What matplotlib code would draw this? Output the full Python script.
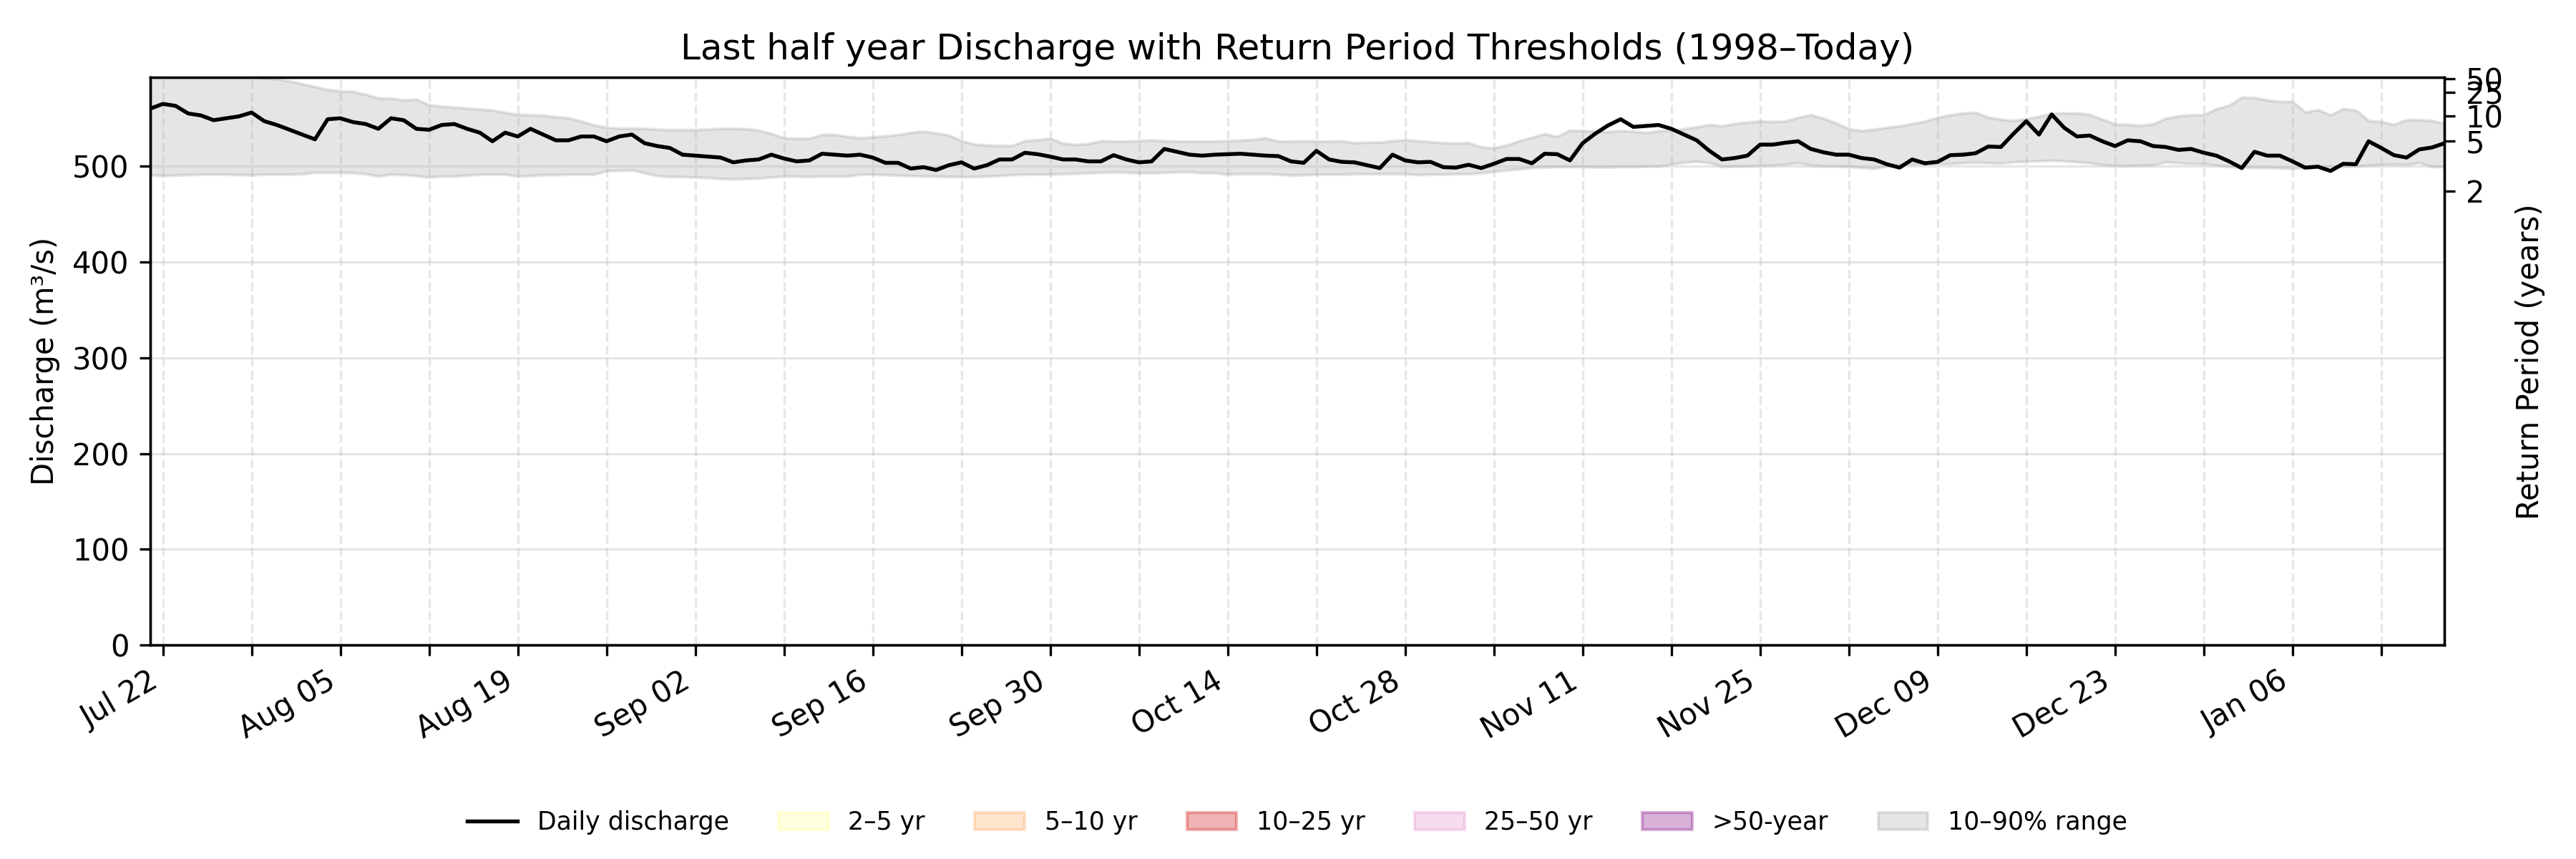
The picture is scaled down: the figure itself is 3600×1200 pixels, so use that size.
import pandas as pd
import matplotlib
matplotlib.use('Agg')
import matplotlib.pyplot as plt
import matplotlib.dates as mdates
import matplotlib.patches as mpatches


# 1) Dados: 182 dias (2024-07-21 .. 2025-01-18)
datas = pd.date_range('2024-07-21', periods=182, freq='D')

vazao = [
    560, 565, 563, 555, 553, 548, 550, 552, 556, 547,
    543, 538, 533, 528, 549, 550, 546, 544, 539, 550,
    548, 539, 538, 543, 544, 539, 535, 526, 535, 531,
    539, 533, 527, 527, 531, 531, 526, 531, 533, 524,
    521, 519, 512, 511, 510, 509, 504, 506, 507, 512,
    508, 505, 506, 513, 512, 511,
    512,
    509, 503.5, 503.5, 497.5, 499, 496, 501, 504, 497.5, 501,
    507, 507, 514, 512.5, 510, 507, 507, 505, 505, 511.5,
    507, 504, 505, 518, 515, 512, 511, 512, 512.5, 513,
    512, 511, 510.5, 505, 503.5, 516, 507, 504.5, 504, 501,
    498, 512, 506, 504, 504.5, 499, 498.5, 501.5, 498, 502.5,
    507.5, 507.5, 503, 513, 512.5, 506, 524, 534, 542.5, 549,
    541, 542, 543, 539, 533, 527, 516,
    507, 508.5, 511, 522.5, 522.5, 524.5, 526, 518, 514.5, 512,
    512, 508.5, 507, 502, 498.5, 507, 503, 504.5, 511.5, 512,
    513.5, 520.5, 520, 534, 547, 533, 554, 540, 531, 532,
    526, 521, 527, 526, 521, 520, 517, 518, 514, 511,
    505, 498, 515, 511, 511, 505, 498.5, 499.5, 495, 502.5,
    502, 526, 519, 511.5, 509, 517.5, 519.5, 524,
]

q90 = [
    598, 600, 601, 600, 599, 598, 597, 596, 594, 592,
    591, 589, 586, 583, 580, 578.5, 578, 575, 571, 571,
    569, 570, 564, 562.5, 561.5, 560.5, 559.5, 558.5, 556, 554,
    553.5, 553, 551.5, 550.5, 547, 543, 540.5, 539.5, 539.5, 539.5,
    538.5, 538, 538, 538, 538.5, 539.5, 539.5, 539, 537.5, 534,
    529.5, 529, 529, 533, 533, 531,
    529.5, 530.5, 531.5, 533, 535, 536.5, 534.5, 532.5, 526.5, 523,
    522, 521.5, 521.5, 526.5, 527.5, 529, 524, 522.5, 523.5, 526.5,
    526, 526, 526.5, 527.5, 526.5, 526, 526, 526, 526, 526.5,
    527, 528, 529.5, 526, 526, 526.5, 526, 526, 526.5, 524.5,
    525, 525, 526.5, 527.5, 526.5, 525.5, 524.5, 524, 524.5, 520,
    519, 522, 526.5, 530, 534, 531, 537.5, 537, 536.5, 536,
    537, 536.5, 535, 537, 537.5, 539, 541, 543.5,
    542, 544.5, 546, 547, 546.5, 547, 551, 553.5, 550, 545,
    539, 537, 538.5, 540.5, 542, 544.5, 547, 551, 553.5, 555.5,
    556, 551, 549, 547.5, 549.5, 552, 555, 555.5, 555.5, 554,
    549, 544, 543.5, 542.5, 544, 550, 552.5, 553.5, 553.5, 560,
    563.5, 572, 571.5, 569, 567.5, 567.5, 556.5, 559, 553.5, 560,
    558.5, 547.5, 546.5, 543.5, 548.5, 548.5, 547.5, 544.5,
]

q10 = [
    491, 490, 490.5, 491, 491.5, 491.5, 491.5, 491, 491, 491.5,
    491.5, 491.5, 492, 493.5, 493.5, 493.5, 493, 492, 489.5, 491.5,
    491, 490, 488.5, 489.5, 489.5, 490.5, 491.5, 491.5, 491.5, 489.5,
    490, 491, 491, 491.5, 491.5, 491.5, 495, 495.5, 496, 493,
    490, 489, 489, 488.5, 488, 487, 486.5, 487, 487.5, 488.5,
    489.5, 489.5, 489, 489.5, 489.5, 489.5,
    491.5, 491.5, 491, 490.5, 490, 489.5, 489.5, 489, 489, 489,
    489.5, 490, 491, 491.5, 491.5, 491.5, 492, 492.5, 493, 493.5,
    494, 493.5, 493, 493, 493.5, 494, 494, 493, 493, 491.5,
    492, 492, 492, 491.5, 490.5, 491, 491.5, 491.5, 491.5, 492,
    492, 492, 492, 492, 491, 491.5, 491.5, 492, 492, 493,
    494.5, 496, 497, 498.5, 499, 499.5, 499.5, 499.5, 499, 499,
    499.5, 499.5, 500, 500, 502, 504, 505, 503.5,
    499.5, 500, 500, 500.5, 501, 502, 503.5, 501, 500, 500,
    499.5, 498.5, 497.5, 500, 501.5, 502, 502, 502.5, 502.5, 503.5,
    504, 503.5, 503, 504.5, 505, 505.5, 506, 505.5, 504.5, 503.5,
    501.5, 500.5, 500.5, 501, 501, 504.5, 503.5, 502.5, 502.5, 501,
    499.5, 499, 498.5, 498.5, 498, 497.5, 498.5, 499, 499.5, 500,
    500, 501, 501.5, 502, 501.5, 503.5, 499.5, 499.5,
]

# limiares de periodo de retorno (m3/s)
periodos = ['2', '5', '10', '25', '50']
limiares = [474, 526, 552.5, 577, 591]

faixas_rp = ['2–5 yr', '5–10 yr', '10–25 yr', '25–50 yr', '>50-year']
cores_rp = ['yellow', 'tab:orange', 'tab:red', 'tab:pink', 'purple']
alphas_rp = [0.12, 0.2, 0.35, 0.25, 0.3]


# 2) Grafico
fig, ax = plt.subplots(figsize=(12, 4))
fig.subplots_adjust(left=0.0583, right=0.949, bottom=0.249, top=0.9097)

banda = ax.fill_between(datas, q10, q90, color='gray', alpha=0.2, label='10–90% range')
linha, = ax.plot(datas, vazao, color='black', linewidth=1.3, label='Daily discharge')

ax.set_xlim(datas[0], datas[-1])
ax.set_ylim(0, 592.5)
ax.set_ylabel('Discharge (m³/s)')
ax.set_title('Last half year Discharge with Return Period Thresholds (1998–Today)')

# ticks semanais, rotulo a cada duas semanas
ax.xaxis.set_major_locator(mdates.WeekdayLocator(byweekday=mdates.MO))
primeiro = mdates.date2num(pd.Timestamp('2024-07-22'))


def rotulo(x, pos):
    semanas = int(round((x - primeiro) / 7))
    if semanas % 2 == 0:
        return mdates.num2date(x).strftime('%b %d')
    return ''


ax.xaxis.set_major_formatter(plt.FuncFormatter(rotulo))
plt.setp(ax.get_xticklabels(), rotation=30, ha='right')

ax.grid(axis='y', alpha=0.3)
ax.grid(axis='x', linestyle='--', alpha=0.3)

# eixo da direita com os periodos de retorno
ax2 = ax.twinx()
ax2.set_ylim(ax.get_ylim())
ax2.set_yticks(limiares)
ax2.set_yticklabels(periodos)
ax2.set_ylabel('Return Period (years)')

# legenda
handles = [linha]
for nome, cor, a in zip(faixas_rp, cores_rp, alphas_rp):
    handles.append(mpatches.Patch(color=cor, alpha=a, label=nome))
handles.append(banda)

ax.legend(handles=handles, loc='center', bbox_to_anchor=(0.5, -0.313),
          ncol=7, frameon=False, fontsize='small')

plt.savefig('out.png', dpi=300)
